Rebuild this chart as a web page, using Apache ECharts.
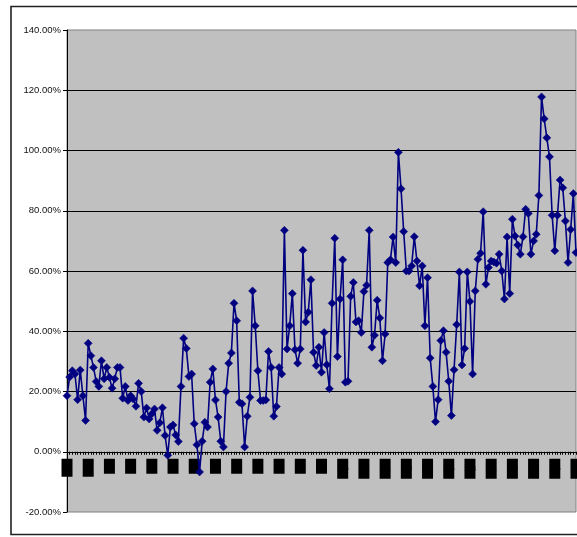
<!DOCTYPE html>
<html>
<head>
<meta charset="utf-8">
<script src="https://cdn.jsdelivr.net/npm/echarts@6/dist/echarts.min.js"></script>
<style>
  html, body { margin: 0; padding: 0; background: #fff; overflow: hidden; }
  #chart { width: 577px; height: 537px; }
</style>
</head>
<body>
<div id="chart"></div>
<script>
// Period-by-period return, in percent
const returns = [
  18.6, 24.8, 26.9, 25.8, 17.3, 27.1, 18.6, 10.4, 36.0, 31.9,
  28.0, 23.3, 21.7, 30.2, 24.2, 28.0, 24.7, 21.1, 24.2, 28.0,
  28.0, 17.8, 21.7, 17.0, 18.6, 17.5, 15.1, 22.7, 20.0, 11.5,
  14.5, 10.9, 12.6, 14.2, 7.1, 9.6, 14.6, 5.4, -1.2, 8.2,
  8.9, 5.6, 3.4, 21.7, 37.7, 34.3, 25.0, 25.8, 9.3, 2.3,
  -6.7, 3.5, 9.8, 8.2, 23.1, 27.5, 17.2, 11.5, 3.5, 1.6,
  20.0, 29.4, 32.8, 49.3, 43.5, 16.4, 15.9, 1.6, 11.8, 18.1,
  53.4, 41.8, 26.9, 17.0, 17.0, 17.2, 33.3, 28.0, 11.8, 15.0,
  28.0, 25.8, 73.5, 34.1, 41.8, 52.5, 33.9, 29.4, 34.1, 66.9,
  43.1, 46.3, 57.1, 33.0, 28.6, 34.7, 26.4, 39.6, 28.9, 20.9,
  49.3, 70.9, 31.6, 50.7, 63.7, 23.1, 23.4, 51.6, 56.2, 43.1,
  43.5, 39.6, 53.2, 55.3, 73.5, 34.7, 38.7, 50.3, 44.4, 30.2,
  39.1, 62.8, 63.7, 71.3, 62.8, 99.4, 87.3, 73.1, 60.0, 60.0,
  61.7, 71.4, 63.3, 55.1, 61.7, 41.8, 57.8, 31.1, 21.7, 10.0,
  17.3, 36.9, 40.2, 33.0, 23.4, 12.0, 27.2, 42.2, 59.7, 28.8,
  34.3, 59.7, 49.9, 25.8, 53.4, 63.9, 65.9, 79.7, 55.6, 61.2,
  63.3, 63.0, 62.6, 65.6, 60.0, 50.7, 71.3, 52.5, 77.2, 71.6,
  68.6, 65.6, 71.4, 80.5, 79.1, 65.6, 70.0, 72.2, 85.1, 117.8,
  110.5, 104.2, 97.9, 78.5, 66.7, 78.5, 90.2, 87.6, 76.6, 62.8,
  73.8, 85.7, 66.1
];

// Period numbers along the category axis
const periods = returns.map((_, i) => String(i + 1));

// Value axis range and step (percent)
const yMin = -20;
const yMax = 140;
const yStep = 20;

// Plot box
const gridTop = 30;
const gridBottom = 25;
const chartHeight = 537;
const plotHeight = chartHeight - gridTop - gridBottom;
// The category axis sits on the 0% line
const zeroOffset = -plotHeight * (0 - yMin) / (yMax - yMin);

const chart = echarts.init(document.getElementById('chart'), null, { renderer: 'canvas' });

// Period labels are printed as solid blocks; block height follows the digit count
function labelStyleKey(value) {
  const len = String(value).length;
  return len === 1 ? 'one' : (len === 2 ? 'two' : 'three');
}
const block = (h) => ({
  width: 11, height: h, backgroundColor: '#000', color: '#000',
  fontSize: 7, align: 'center', verticalAlign: 'top', lineHeight: h
});

chart.setOption({
  animation: false,
  backgroundColor: '#ffffff',
  graphic: [{
    type: 'rect',
    silent: true,
    z: -10,
    shape: { x: 11, y: 6.5, width: 700, height: 528 },
    style: { fill: 'none', stroke: '#222', lineWidth: 1.6 }
  }],
  grid: {
    left: 67, right: 1, top: gridTop, bottom: gridBottom,
    show: true,
    backgroundColor: '#c0c0c0',
    borderColor: '#808080',
    borderWidth: 1,
    containLabel: false,
    outerBoundsMode: 'none'
  },
  xAxis: {
    type: 'category',
    data: periods,
    boundaryGap: false,
    offset: zeroOffset,
    axisLine: { onZero: false, lineStyle: { color: '#000', width: 1 } },
    axisTick: { show: true, interval: 0, length: 3, lineStyle: { color: '#000', width: 1 } },
    axisLabel: {
      interval: 7,
      margin: 7,
      hideOverlap: false,
      formatter: (v) => '{' + labelStyleKey(v) + '|' + v + '}',
      rich: { one: block(18), two: block(15), three: block(20) }
    },
    splitLine: { show: false }
  },
  yAxis: {
    type: 'value',
    min: yMin,
    max: yMax,
    interval: yStep,
    axisLine: { show: true, lineStyle: { color: '#000', width: 1 } },
    axisTick: { show: true, length: 4, lineStyle: { color: '#000', width: 1 } },
    axisLabel: {
      margin: 6,
      color: '#111',
      fontFamily: 'Liberation Sans, Arial, sans-serif',
      fontSize: 9.5,
      formatter: (v) => v.toFixed(2) + '%'
    },
    splitLine: {
      show: true,
      showMinLine: false,
      showMaxLine: false,
      lineStyle: { color: '#000', width: 1 }
    }
  },
  series: [{
    type: 'line',
    data: returns,
    symbol: 'diamond',
    symbolSize: 8,
    showAllSymbol: true,
    lineStyle: { color: '#000080', width: 1.6 },
    itemStyle: { color: '#000080', borderColor: '#000080', borderWidth: 0.5 }
  }]
});
</script>
</body>
</html>
